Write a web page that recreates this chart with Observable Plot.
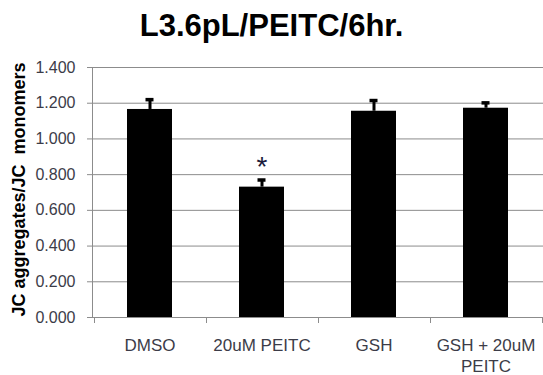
<!DOCTYPE html>
<html>
<head>
<meta charset="utf-8">
<script src="https://cdn.jsdelivr.net/npm/d3@7"></script>
<script src="https://cdn.jsdelivr.net/npm/@observablehq/plot@0.6"></script>
<style>
  html, body { margin: 0; padding: 0; background: #fff; }
  #title {
    height: 52px; box-sizing: border-box; padding-top: 8px;
    font: bold 31px "Liberation Sans", Arial, sans-serif;
    text-align: center; color: #000; width: 543px;
  }
</style>
</head>
<body>
<div id="title">L3.6pL/PEITC/6hr.</div>
<div id="chart"></div>
<script>
// Treatment groups and their JC aggregate/monomer ratios (mean, upper error)
const groups = ["DMSO", "20uM PEITC", "GSH", "GSH + 20uM PEITC"];
const tickLabels = ["DMSO", "20uM PEITC", "GSH", "GSH + 20uM\nPEITC"];
const ratios = [1.165, 0.730, 1.155, 1.172];
const errors = [0.055, 0.040, 0.060, 0.030];
const significance = ["", "*", "", ""];
const yTicks = [0, 0.2, 0.4, 0.6, 0.8, 1.0, 1.2, 1.4];
const yLabel = "JC aggregates/JC  monomers";

const rows = groups.map((g, i) => ({
  group: g, ratio: ratios[i], err: errors[i], sig: significance[i]
}));

const gridColor = "#8c8c8c";
const textColor = "#3c3c48";

// Short tick marks at the boundaries between category bands
function bandBoundaries(index, scales, values, dimensions) {
  const x = scales.x;
  const step = x.step(), bw = x.bandwidth();
  const y0 = dimensions.height - dimensions.marginBottom;
  const g = d3.create("svg:g").attr("stroke", gridColor);
  const edges = groups.map(c => x(c) + bw / 2 - step / 2);
  edges.push(x(groups[groups.length - 1]) + bw / 2 + step / 2);
  for (const e of edges) {
    const xe = Math.min(Math.round(e) + 0.5, dimensions.width - 0.5);
    g.append("line").attr("x1", xe).attr("x2", xe).attr("y1", y0).attr("y2", y0 + 6);
  }
  return g.node();
}

const chart = Plot.plot({
  width: 543,
  height: 323,
  marginTop: 15,
  marginBottom: 58,
  marginLeft: 92,
  marginRight: 0,
  style: { fontFamily: "'Liberation Sans', Arial, sans-serif", fontSize: "16px", color: textColor, background: "#fff" },
  x: { domain: groups, paddingInner: 0.6, paddingOuter: 0.3 },
  y: { domain: [0, 1.4] },
  marks: [
    Plot.gridY(yTicks, { stroke: gridColor, strokeOpacity: 1 }),
    Plot.ruleY([0], { stroke: gridColor }),
    Plot.frame({ anchor: "left", stroke: gridColor }),
    bandBoundaries,
    Plot.barY(rows, { x: "group", y: "ratio", fill: "#000" }),
    Plot.ruleX(rows, { x: "group", y1: "ratio", y2: d => d.ratio + d.err, stroke: "#000", strokeWidth: 3 }),
    Plot.tickY(rows, { x: "group", y: d => d.ratio + d.err, stroke: "#000", strokeWidth: 3.5, inset: 18.5 }),
    Plot.text(rows.filter(d => d.sig), {
      x: "group", y: d => d.ratio + d.err, text: "sig",
      fontSize: 28, fill: "#1a1a3a", lineAnchor: "bottom", dy: -4
    }),
    Plot.axisY(yTicks, {
      tickFormat: d3.format(".3f"), tickSize: 5, tickPadding: 12,
      stroke: gridColor, fill: textColor, fontSize: 16, label: null
    }),
    Plot.axisX({
      tickSize: 0, tickPadding: 18, fontSize: 17, lineHeight: 1.25,
      tickFormat: (d, i) => tickLabels[groups.indexOf(d)], fill: textColor, label: null
    }),
    Plot.text([yLabel], {
      frameAnchor: "left", textAnchor: "middle", rotate: -90, dx: -73, dy: -3,
      fontSize: 18, fontWeight: "bold", fill: "#000", text: d => d
    })
  ]
});

document.getElementById("chart").append(chart);
</script>
</body>
</html>
